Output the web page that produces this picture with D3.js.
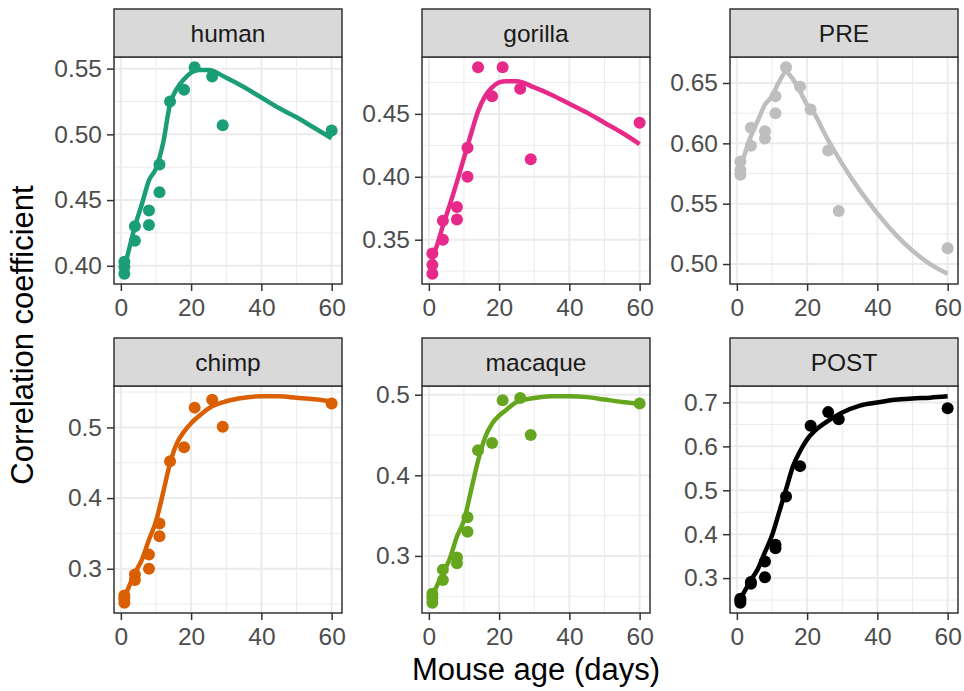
<!DOCTYPE html>
<html>
<head>
<meta charset="utf-8">
<script src="https://cdn.jsdelivr.net/npm/d3@7"></script>
<style>
  body { margin: 0; background: #fff; }
  svg { display: block; font-family: 'Liberation Sans', Arial, sans-serif; }
</style>
</head>
<body>
<svg width="964" height="691"></svg>
<script>
var species = ['human', 'gorilla', 'PRE', 'chimp', 'macaque', 'POST']
var colors = ['#1B9E77', '#E7298A', '#BEBEBE', '#D95F02', '#66A61E', '#000000']

// mouse age of each sample (days)
var ages = [1, 1, 1, 4, 4, 8, 8, 11, 11, 14, 18, 21, 26, 29, 60]

// correlation coefficients, one per sample
var human   = [0.403, 0.399, 0.394, 0.430, 0.419, 0.442, 0.431, 0.477, 0.456, 0.525, 0.534, 0.551, 0.544, 0.507, 0.503]
var gorilla = [0.339, 0.330, 0.323, 0.365, 0.350, 0.376, 0.366, 0.423, 0.400, 0.487, 0.464, 0.487, 0.470, 0.414, 0.443]
var pre     = [0.585, 0.578, 0.574, 0.613, 0.598, 0.610, 0.604, 0.639, 0.625, 0.663, 0.647, 0.628, 0.594, 0.544, 0.513]
var chimp   = [0.262, 0.258, 0.252, 0.292, 0.284, 0.320, 0.300, 0.364, 0.346, 0.452, 0.472, 0.528, 0.539, 0.501, 0.534]
var macaque = [0.253, 0.248, 0.242, 0.283, 0.270, 0.298, 0.291, 0.348, 0.330, 0.431, 0.440, 0.493, 0.496, 0.450, 0.489]
var post    = [0.253, 0.249, 0.244, 0.291, 0.287, 0.338, 0.302, 0.376, 0.368, 0.486, 0.555, 0.647, 0.678, 0.662, 0.687]

// fitted curve
var fitAges = [1, 2, 4, 6, 8, 10, 12, 14, 16, 18, 20, 22, 25, 30, 35, 40, 45, 50, 55, 60]
var humanFit   = [0.399, 0.409, 0.430, 0.447, 0.465, 0.474, 0.493, 0.523, 0.535, 0.542, 0.547, 0.549, 0.549, 0.543, 0.536, 0.528, 0.520, 0.513, 0.505, 0.497]
var gorillaFit = [0.337, 0.343, 0.361, 0.378, 0.396, 0.415, 0.434, 0.452, 0.464, 0.471, 0.475, 0.476, 0.476, 0.471, 0.465, 0.458, 0.451, 0.443, 0.435, 0.426]
var preFit     = [0.581, 0.589, 0.606, 0.619, 0.632, 0.639, 0.651, 0.659, 0.653, 0.643, 0.632, 0.625, 0.608, 0.583, 0.561, 0.542, 0.525, 0.511, 0.500, 0.492]
var chimpFit   = [0.259, 0.271, 0.294, 0.313, 0.341, 0.367, 0.407, 0.449, 0.478, 0.494, 0.506, 0.515, 0.527, 0.537, 0.542, 0.544, 0.544, 0.542, 0.540, 0.537]
var macaqueFit = [0.249, 0.260, 0.278, 0.297, 0.324, 0.344, 0.381, 0.418, 0.447, 0.464, 0.474, 0.481, 0.491, 0.496, 0.498, 0.498, 0.497, 0.494, 0.491, 0.489]
var postFit    = [0.253, 0.267, 0.295, 0.321, 0.359, 0.397, 0.449, 0.502, 0.555, 0.589, 0.616, 0.634, 0.653, 0.677, 0.693, 0.700, 0.706, 0.709, 0.711, 0.714]

var xTicks = [0, 20, 40, 60]
var yTicks = [
  ['0.40', '0.45', '0.50', '0.55'],
  ['0.35', '0.40', '0.45'],
  ['0.50', '0.55', '0.60', '0.65'],
  ['0.3', '0.4', '0.5'],
  ['0.3', '0.4', '0.5'],
  ['0.3', '0.4', '0.5', '0.6', '0.7']
]

;(function() {
  var points = [human, gorilla, pre, chimp, macaque, post]
  var fits = [humanFit, gorillaFit, preFit, chimpFit, macaqueFit, postFit]

  var svg = d3.select('svg')
  var colX = [114, 422, 730]
  var rowY = [57, 386]
  var panelW = 228, panelH = 227, stripH = 48

  // ggplot style 5% expansion
  function expand(ext) {
    var pad = (ext[1] - ext[0]) * 0.05
    return [ext[0] - pad, ext[1] + pad]
  }

  function minors(ticks, domain) {
    var step = ticks[1] - ticks[0]
    var out = []
    for (var v = ticks[0] - step / 2; v <= ticks[ticks.length - 1] + step; v += step) {
      if (v >= domain[0] && v <= domain[1]) out.push(v)
    }
    return out
  }

  var x = d3.scaleLinear().domain(expand(d3.extent(ages))).range([0, panelW])

  species.forEach(function(name, i) {
    var left = colX[i % 3], top = rowY[Math.floor(i / 3)]
    var g = svg.append('g').attr('transform', 'translate(' + left + ',' + top + ')')
    var vals = points[i], fit = fits[i]
    var yt = yTicks[i].map(Number)
    var y = d3.scaleLinear()
      .domain(expand(d3.extent(vals.concat(fit))))
      .range([panelH, 0])

    // grid
    var xMinor = minors(xTicks, x.domain())
    var yMinor = minors(yt, y.domain())
    g.selectAll('.xminor').data(xMinor).enter().append('line')
      .attr('x1', x).attr('x2', x).attr('y1', 0).attr('y2', panelH)
      .attr('stroke', '#EBEBEB').attr('stroke-width', 1)
    g.selectAll('.yminor').data(yMinor).enter().append('line')
      .attr('x1', 0).attr('x2', panelW).attr('y1', y).attr('y2', y)
      .attr('stroke', '#EBEBEB').attr('stroke-width', 1)
    g.selectAll('.xmajor').data(xTicks).enter().append('line')
      .attr('x1', x).attr('x2', x).attr('y1', 0).attr('y2', panelH)
      .attr('stroke', '#EBEBEB').attr('stroke-width', 2)
    g.selectAll('.ymajor').data(yt).enter().append('line')
      .attr('x1', 0).attr('x2', panelW).attr('y1', y).attr('y2', y)
      .attr('stroke', '#EBEBEB').attr('stroke-width', 2)

    // fitted curve
    var line = d3.line()
      .x(function(d) { return x(d[0]) })
      .y(function(d) { return y(d[1]) })
      .curve(d3.curveMonotoneX)
    g.append('path')
      .datum(fitAges.map(function(a, k) { return [a, fit[k]] }))
      .attr('d', line)
      .attr('fill', 'none')
      .attr('stroke', colors[i])
      .attr('stroke-width', 4.5)

    // samples
    g.selectAll('circle').data(vals).enter().append('circle')
      .attr('cx', function(d, k) { return x(ages[k]) })
      .attr('cy', function(d) { return y(d) })
      .attr('r', 6)
      .attr('fill', colors[i])

    // panel border
    g.append('rect')
      .attr('width', panelW).attr('height', panelH)
      .attr('fill', 'none').attr('stroke', '#333333').attr('stroke-width', 1.5)

    // strip
    g.append('rect')
      .attr('y', -stripH).attr('width', panelW).attr('height', stripH)
      .attr('fill', '#D9D9D9').attr('stroke', '#333333').attr('stroke-width', 1.5)
    g.append('text')
      .attr('x', panelW / 2).attr('y', -stripH / 2).attr('dy', '0.35em')
      .attr('text-anchor', 'middle')
      .attr('font-size', 24.5).attr('fill', '#1A1A1A')
      .text(name)

    // axes
    var ya = g.append('g')
      .call(d3.axisLeft(y).tickValues(yt).tickFormat(function(d, k) { return yTicks[i][k] })
        .tickSize(7).tickPadding(5))
    var xa = g.append('g').attr('transform', 'translate(0,' + panelH + ')')
      .call(d3.axisBottom(x).tickValues(xTicks).tickFormat(d3.format('d'))
        .tickSize(7).tickPadding(8))
    ;[ya, xa].forEach(function(a) {
      a.select('.domain').remove()
      a.selectAll('line').attr('stroke', '#333333').attr('stroke-width', 1.5)
      a.selectAll('text').attr('font-size', 24.5).attr('fill', '#4D4D4D')
        .attr('font-family', "'Liberation Sans', Arial, sans-serif")
    })
  })

  // axis titles
  svg.append('text')
    .attr('x', (colX[0] + colX[2] + panelW) / 2).attr('y', 680)
    .attr('text-anchor', 'middle').attr('font-size', 31).attr('fill', '#000')
    .text('Mouse age (days)')
  svg.append('text')
    .attr('transform', 'translate(33,' + (rowY[0] + rowY[1] + panelH) / 2 + ') rotate(-90)')
    .attr('text-anchor', 'middle').attr('font-size', 31).attr('fill', '#000')
    .text('Correlation coefficient')
})();
</script>
</body>
</html>
